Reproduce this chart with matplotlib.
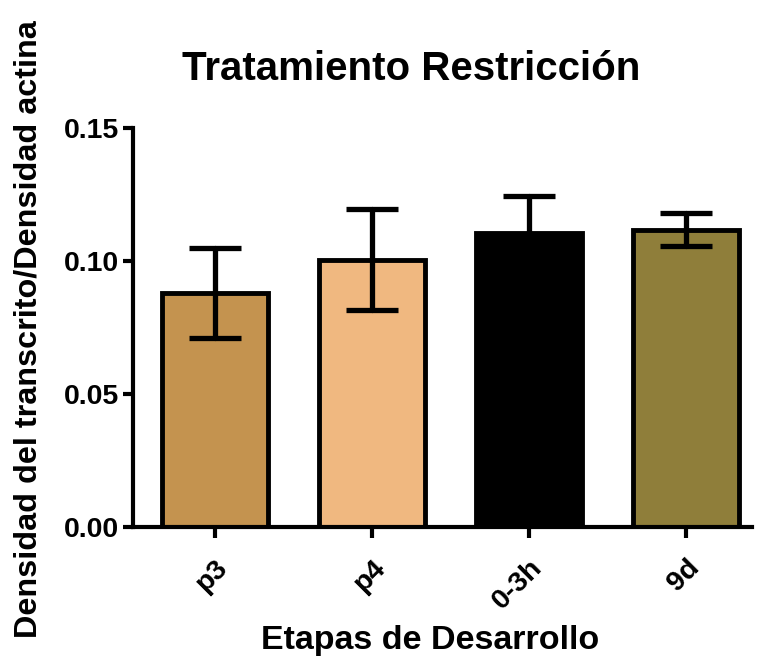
import matplotlib
matplotlib.use("Agg")
import matplotlib.pyplot as plt
import numpy as np

# Data
categories = ["p3", "p4", "0-3h", "9d"]
means = [0.088, 0.1004, 0.1105, 0.1117]
errors = [0.017, 0.019, 0.014, 0.0062]
colors = ["#C4934F", "#F0B880", "#000000", "#8F7E3A"]
yticks = [0.00, 0.05, 0.10, 0.15]
ytick_labels = ["0.00", "0.05", "0.10", "0.15"]

plt.rcParams["font.family"] = ["Liberation Sans", "DejaVu Sans"]
plt.rcParams["font.weight"] = "bold"

W, H = 759, 656
fig = plt.figure(figsize=(W / 100, H / 100), dpi=100)
ax = fig.add_axes([133 / W, 1 - 527 / H, (752 - 133) / W, (527 - 128) / H])

x = np.arange(len(categories))
ax.bar(x, means, width=0.675, color=colors, edgecolor="black", linewidth=3.5, zorder=2)
eb = ax.errorbar(x, means, yerr=errors, fmt="none", ecolor="black", elinewidth=3.8,
                 capsize=19, capthick=3.8, zorder=3)
for coll in eb.lines[2]:
    coll.set_capstyle("round")

ax.set_xlim(-0.52, 3.42)
ax.set_ylim(0, 0.15)
ax.set_yticks(yticks)
ax.set_yticklabels(ytick_labels, fontsize=20.5, fontweight="bold")
ax.set_xticks(x)
ax.set_xticklabels(categories, fontsize=20.5, fontweight="bold", rotation=45,
                   ha="right", va="top", rotation_mode="anchor")

for side in ["top", "right"]:
    ax.spines[side].set_visible(False)
for side in ["left", "bottom"]:
    ax.spines[side].set_linewidth(3)
ax.tick_params(axis="y", length=7, width=3, pad=3)
ax.tick_params(axis="x", length=8, width=3, pad=12)

fig.text(411 / W, 1 - 80 / H, "Tratamiento Restricción", fontsize=29,
         fontweight="bold", ha="center", va="baseline")
fig.text(430 / W, 1 - 649 / H, "Etapas de Desarrollo", fontsize=24.5,
         fontweight="bold", ha="center", va="baseline")
fig.text(44 / W, 1 - 329 / H, "Densidad del transcrito/Densidad actina",
         fontsize=23.3, fontweight="bold", rotation=90, ha="right", va="center")

fig.savefig("out.png", dpi=100)
